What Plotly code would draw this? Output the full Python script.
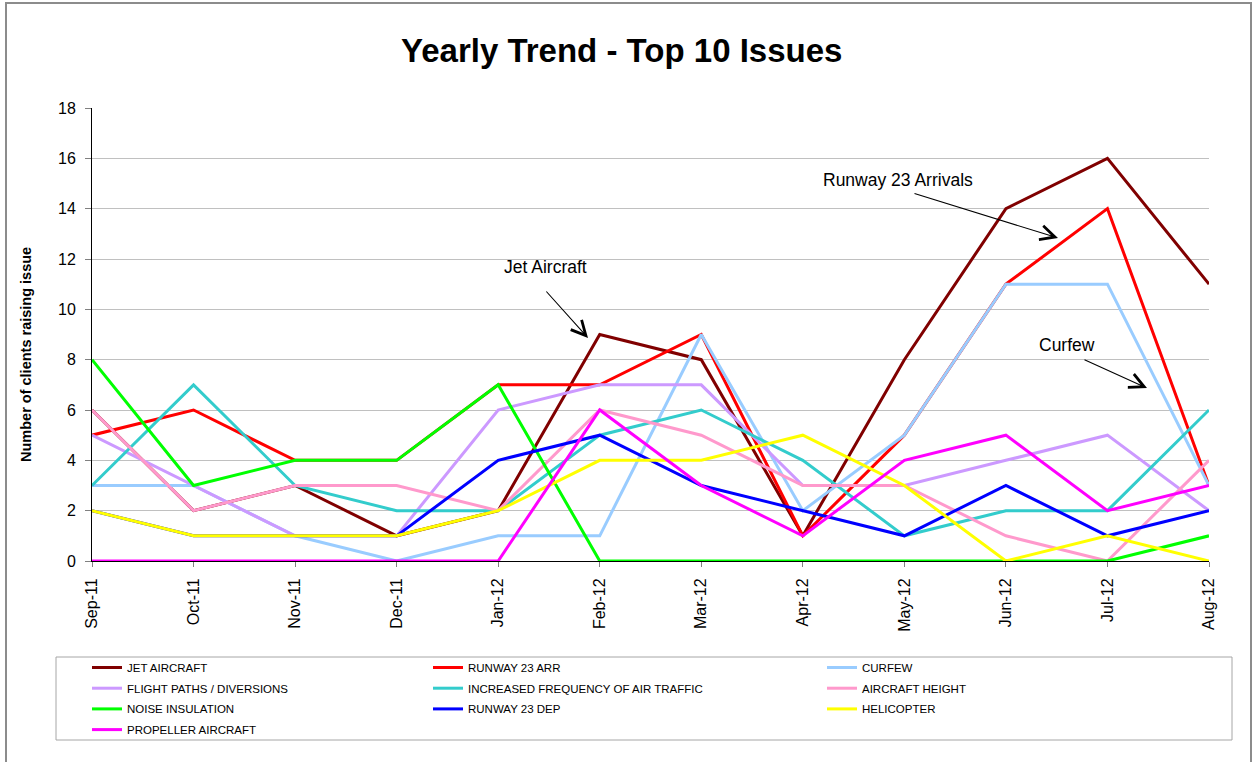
import plotly.graph_objects as go

# ---------------- data ----------------
months = ["Sep-11", "Oct-11", "Nov-11", "Dec-11", "Jan-12", "Feb-12",
          "Mar-12", "Apr-12", "May-12", "Jun-12", "Jul-12", "Aug-12"]

jet_aircraft     = [6, 2, 3, 1, 2, 9, 8, 1, 8, 14, 16, 11]
runway_23_arr    = [5, 6, 4, 4, 7, 7, 9, 1, 5, 11, 14, 3]
curfew           = [3, 3, 1, 0, 1, 1, 9, 2, 5, 11, 11, 3]
flight_paths     = [5, 3, 1, 1, 6, 7, 7, 3, 3, 4, 5, 2]
increased_freq   = [3, 7, 3, 2, 2, 5, 6, 4, 1, 2, 2, 6]
aircraft_height  = [6, 2, 3, 3, 2, 6, 5, 3, 3, 1, 0, 4]
noise_insulation = [8, 3, 4, 4, 7, 0, 0, 0, 0, 0, 0, 1]
runway_23_dep    = [2, 1, 1, 1, 4, 5, 3, 2, 1, 3, 1, 2]
helicopter       = [2, 1, 1, 1, 2, 4, 4, 5, 3, 0, 1, 0]
propeller        = [0, 0, 0, 0, 0, 6, 3, 1, 4, 5, 2, 3]

series = [
    ("JET AIRCRAFT", jet_aircraft, "#800000", "legend"),
    ("RUNWAY 23 ARR", runway_23_arr, "#FF0000", "legend2"),
    ("CURFEW", curfew, "#99CCFF", "legend3"),
    ("FLIGHT PATHS / DIVERSIONS", flight_paths, "#CC99FF", "legend"),
    ("INCREASED FREQUENCY OF AIR TRAFFIC", increased_freq, "#33CCCC", "legend2"),
    ("AIRCRAFT HEIGHT", aircraft_height, "#FF99CC", "legend3"),
    ("NOISE INSULATION", noise_insulation, "#00FF00", "legend"),
    ("RUNWAY 23 DEP", runway_23_dep, "#0000FF", "legend2"),
    ("HELICOPTER", helicopter, "#FFFF00", "legend3"),
    ("PROPELLER AIRCRAFT", propeller, "#FF00FF", "legend"),
]

W, H = 1253, 762
L, R, T, B = 92, 1209, 108, 561   # plot area in pixels


def px(x):
    return (x - L) / (R - L)


def py(y):
    return (B - y) / (B - T)


FONT = "Liberation Sans, Arial, sans-serif"

fig = go.Figure()
for i, (name, vals, color, leg) in enumerate(series):
    fig.add_trace(go.Scatter(
        x=months, y=vals, name=name, mode="lines",
        line=dict(color=color, width=3),
        legend=leg, legendgroup=name,
    ))

legend_common = dict(
    bgcolor="rgba(0,0,0,0)", borderwidth=0,
    font=dict(family=FONT, size=11.5, color="#000000"),
    orientation="v", traceorder="grouped", tracegroupgap=1.7,
    xanchor="left", yanchor="top", xref="paper", yref="paper",
)

fig.update_layout(
    width=W, height=H,
    margin=dict(l=L, r=W - R, t=T, b=H - B, autoexpand=False),
    paper_bgcolor="white", plot_bgcolor="white",
    font=dict(family=FONT, color="#000000"),
    showlegend=True,
    legend=dict(x=px(87), y=py(653), **legend_common),
    legend2=dict(x=px(428), y=py(653), **legend_common),
    legend3=dict(x=px(822), y=py(653), **legend_common),
    xaxis=dict(
        type="category", range=[0, len(months) - 1],
        showgrid=False, zeroline=False,
        showline=True, linecolor="#000000", linewidth=1,
        ticks="outside", ticklen=5, tickcolor="#808080",
        tickangle=-90, tickfont=dict(family=FONT, size=16, color="#000000"),
        ticklabelstandoff=5,
    ),
    yaxis=dict(
        range=[0, 18], dtick=2, tick0=0,
        showgrid=True, gridcolor="#C0C0C0", gridwidth=1,
        zeroline=False,
        showline=True, linecolor="#000000", linewidth=1,
        ticks="outside", ticklen=6, tickcolor="#808080",
        tickfont=dict(family=FONT, size=16, color="#000000"),
        ticklabelstandoff=6,
    ),
)

shapes = [
    # outer chart border
    dict(type="rect", xref="paper", yref="paper",
         x0=px(6), x1=px(1251), y0=py(775), y1=py(3),
         line=dict(color="#8C8C8C", width=2), fillcolor="rgba(0,0,0,0)", layer="below"),
    # legend box
    dict(type="rect", xref="paper", yref="paper",
         x0=px(56), x1=px(1232), y0=py(740), y1=py(657),
         line=dict(color="#A6A6A6", width=1), fillcolor="rgba(0,0,0,0)", layer="below"),
]
fig.update_layout(shapes=shapes)

annotations = [
    dict(text="<b>Yearly Trend - Top 10 Issues</b>", xref="paper", yref="paper",
         x=px(621.5), y=py(50), xanchor="center", yanchor="middle", showarrow=False,
         font=dict(family=FONT, size=33, color="#000000")),
    dict(text="<b>Number of clients raising issue</b>", xref="paper", yref="paper",
         x=px(26), y=py(355), xanchor="center", yanchor="middle", showarrow=False,
         textangle=-90, font=dict(family=FONT, size=14.5, color="#000000")),
    dict(text="Jet Aircraft", xref="paper", yref="paper",
         x=px(545), y=py(267), xanchor="center", yanchor="middle", showarrow=False,
         font=dict(family=FONT, size=17.5, color="#000000")),
    dict(text="Runway 23 Arrivals", xref="paper", yref="paper",
         x=px(898), y=py(180), xanchor="center", yanchor="middle", showarrow=False,
         font=dict(family=FONT, size=17.5, color="#000000")),
    dict(text="Curfew", xref="paper", yref="paper",
         x=px(1067), y=py(345), xanchor="center", yanchor="middle", showarrow=False,
         font=dict(family=FONT, size=17.5, color="#000000")),
]
arrows = [
    # (head_x, head_y, tail_x, tail_y) in pixels
    (588, 338, 545, 290),
    (1058, 238, 913, 193),
    (1147, 388, 1083, 359),
    (676, 240, 673, 237),
]
for hx, hy, tx, ty in arrows:
    annotations.append(dict(
        text="", xref="paper", yref="paper", x=px(hx), y=py(hy),
        ax=tx - hx, ay=ty - hy, axref="pixel", ayref="pixel",
        showarrow=True, arrowhead=5, arrowsize=2.6, arrowwidth=1.1,
        arrowcolor="#000000", standoff=0,
    ))
fig.update_layout(annotations=annotations)

fig.write_html("out.html")
